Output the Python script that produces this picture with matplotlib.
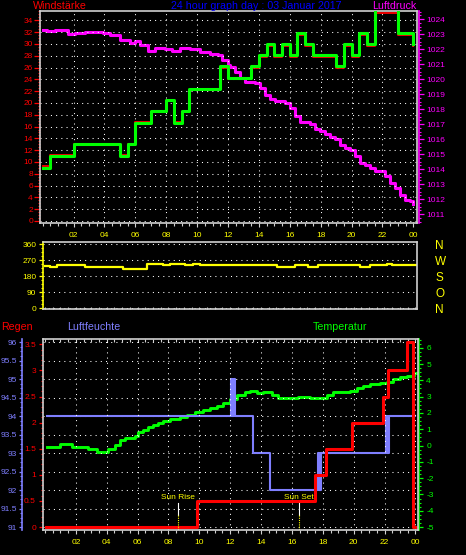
import numpy as np
import matplotlib.pyplot as plt
from matplotlib.ticker import MultipleLocator, FormatStrFormatter

plt.rcParams['font.family'] = ['Liberation Sans', 'DejaVu Sans']
plt.rcParams['axes.unicode_minus'] = False

BOX = '#d0d0d0'
HUM_COL = '#7f7fff'
DOTS = (0, (1, 4))

# x axis: hours of the day
hour_ticks = [2, 4, 6, 8, 10, 12, 14, 16, 18, 20, 22, 24]
hour_labels = ['02', '04', '06', '08', '10', '12', '14', '16', '18', '20', '22', '00']

# wind speed / gusts (km/h), step changes
wind_t = [0, 0.5, 2, 5, 5.5, 6, 7, 8, 8.5, 9, 9.5, 11.5, 12, 13.5, 14,
          14.5, 15, 15.5, 16, 16.5, 17, 17.5, 19, 19.5, 20, 20.5, 21, 21.5, 23, 24]
wind_speed = [9.3, 11.1, 13.0, 11.1, 13.0, 16.7, 18.5, 20.4, 16.7, 18.5, 22.2, 25.9, 24.1, 25.9, 27.8,
              29.6, 27.8, 29.6, 27.8, 31.5, 29.6, 27.8, 25.9, 29.6, 27.8, 31.5, 29.6, 35.2, 31.5, 29.6]
wind_gust = [9.0, 11.0, 13.0, 11.0, 13.0, 16.6, 18.6, 20.5, 16.6, 18.6, 22.4, 26.3, 24.3, 26.3, 28.1,
             30.0, 28.1, 30.0, 28.1, 31.8, 30.0, 28.1, 26.3, 30.0, 28.1, 31.8, 30.0, 36.5, 31.8, 30.0]

# air pressure (hPa)
press_t = [0.0, 0.26, 0.8, 1.25, 1.66, 2.09, 2.74, 3.39, 3.9, 4.36, 5.0, 5.65, 5.97, 6.3, 6.82,
           7.28, 7.92, 8.37, 8.89, 9.54, 10.18, 10.83, 11.35, 11.61, 12.0, 12.13, 12.46, 12.78, 13.1, 13.75,
           14.07, 14.39, 14.72, 15.04, 15.69, 16.02, 16.34, 16.66, 17.31, 17.63, 17.96, 18.28, 18.61, 18.93, 19.25,
           19.58, 19.9, 20.23, 20.55, 20.87, 21.2, 21.52, 21.85, 22.17, 22.49, 22.82, 23.14, 23.47, 23.79, 23.98]
press = [1023.25, 1023.2, 1023.25, 1023.3, 1023.0, 1023.05, 1023.15, 1023.15, 1023.05, 1022.95,
         1022.62, 1022.44, 1022.55, 1022.29, 1021.91, 1022.1, 1022.0, 1021.91, 1022.07, 1022.0,
         1021.82, 1021.69, 1021.62, 1021.29, 1020.95, 1020.84, 1020.51, 1020.1, 1019.84, 1019.77,
         1019.4, 1018.95, 1018.67, 1018.51, 1018.4, 1018.07, 1017.51, 1017.11, 1017.02, 1016.67,
         1016.57, 1016.35, 1016.13, 1016.0, 1015.62, 1015.4, 1015.24, 1014.84, 1014.4, 1014.29,
         1014.07, 1013.84, 1013.84, 1013.51, 1013.07, 1012.73, 1012.29, 1011.95, 1011.84, 1011.66]

# wind direction (deg)
dir_t = [0, 0.32, 0.78, 2.6, 5.05, 6.6, 7.65, 8.1, 9.07, 9.6,
         10.05, 15.04, 16.2, 17.04, 17.7, 20.4, 21.06, 22.16, 22.5, 24.1]
wind_dir = [239, 230, 243, 232, 222, 249, 243, 249, 243, 249,
            243, 232, 243, 232, 243, 232, 243, 249, 243, 243]
dir_ticks = [0, 90, 180, 270, 360]
dir_names = ['N', 'O', 'S', 'W', 'N']

# temperature (deg C)
temp_t = [0.11, 0.97, 1.73, 2.38, 2.8, 3.35, 4.1, 4.54, 4.86, 5.18, 5.83, 6.03, 6.35, 6.68, 7.0,
          7.32, 7.65, 8.1, 8.75, 9.18, 9.72, 10.24, 10.69, 11.13, 11.54, 11.99, 12.42, 12.96, 13.29, 13.72,
          14.13, 14.69, 15.12, 15.88, 16.42, 17.17, 17.82, 18.26, 18.68, 19.12, 19.77, 20.2, 20.63, 21.06, 21.71,
          22.15, 22.57, 23.01, 23.44, 23.9, 24.05]
temp = [-0.1, 0.09, -0.07, -0.11, -0.2, -0.4, -0.21, 0.03, 0.34, 0.44, 0.58, 0.85, 0.95, 1.12, 1.26,
        1.36, 1.52, 1.6, 1.77, 1.89, 2.07, 2.18, 2.28, 2.42, 2.63, 2.85, 3.07, 3.3, 3.36, 3.24,
        3.26, 3.1, 2.9, 2.9, 3.0, 2.9, 2.9, 3.1, 3.26, 3.3, 3.36, 3.51, 3.65, 3.77, 3.82,
        3.88, 4.06, 4.18, 4.28, 4.43, 4.43]

# humidity (%), quick flips show up as solid bars
hum_t = [0.1, 12.05, 12.1, 12.15, 12.2, 12.25, 12.3, 12.35, 13.45, 14.6, 17.7, 17.75, 17.8, 17.85, 17.9,
         22.1, 22.15, 22.2, 22.25, 22.3, 22.35, 24.0]
hum = [94, 95, 94, 95, 94, 95, 94, 94, 93, 92, 93, 92, 93, 92, 93,
       94, 93, 94, 93, 94, 94, 94]

# rain (mm), daily sum
rain_t = [0.05, 9.85, 17.5, 18.2, 19.9, 21.9, 22.2, 23.45, 23.85, 24.0]
rain = [0, 0.5, 1.0, 1.5, 2.0, 2.5, 3.0, 3.55, 0, 0]

sun_times = [8.63, 16.47]
sun_names = ['Sun Rise', 'Sun Set']

W, H = 466, 555
fig = plt.figure(figsize=(W / 100, H / 100), dpi=100, facecolor='black')


def box_axes(ax):
    for s in ax.spines.values():
        s.set_color(BOX)
        s.set_linewidth(1.2)


def only_spine(ax, side, color, out):
    for k, s in ax.spines.items():
        s.set_visible(k == side)
    ax.spines[side].set_color(color)
    ax.spines[side].set_linewidth(1.2)
    ax.spines[side].set_position(('outward', out))


# ---------------- top: wind + pressure ----------------
ax1 = fig.add_axes([40 / W, 1 - 222.7 / H, 377.3 / W, 212 / H])
ax1r = ax1.twinx()
ax1.set_zorder(ax1r.get_zorder() + 1)
ax1.patch.set_visible(False)
box_axes(ax1)
only_spine(ax1r, 'right', '#ff00ff', 1.2)

ax1r.step(press_t, press, where='post', color='#ff00ff', lw=2.2)
ax1.step(wind_t, wind_speed, where='post', color='#ff0000', lw=1.3, zorder=3)
ax1.step(wind_t, wind_gust, where='post', color='#00ff00', lw=2.2, zorder=4)

ax1.set_xlim(-0.175, 24.26)
ax1.set_ylim(-0.29, 35.63)
ax1r.set_ylim(1010.42, 1024.57)
ax1.set_xticks(hour_ticks, hour_labels)
ax1.xaxis.set_minor_locator(MultipleLocator(0.5))
ax1.set_yticks(np.arange(0, 35, 2))
ax1.yaxis.set_minor_locator(MultipleLocator(0.5))
ax1r.set_yticks(np.arange(1011, 1025, 1))
ax1r.yaxis.set_minor_locator(MultipleLocator(0.25))
ax1r.yaxis.set_major_formatter(FormatStrFormatter('%d'))

ax1.tick_params(axis='y', which='major', length=4.3, width=0.9, color='red', labelcolor='red', labelsize=6, pad=0.8)
ax1.tick_params(axis='y', which='minor', length=1.5, width=0.8, color='red')
ax1.tick_params(axis='x', which='major', length=2.9, width=0.8, color=BOX, labelcolor='yellow', labelsize=6, pad=4)
ax1.tick_params(axis='x', which='minor', length=1.8, width=0.8, color=BOX)
ax1r.tick_params(axis='y', which='major', length=3.6, width=0.9, color='#ff00ff', labelcolor='#ff00ff', labelsize=6, pad=1.4)
ax1r.tick_params(axis='y', which='minor', length=1.5, width=0.8, color='#ff00ff')
ax1.set_axisbelow(True)
ax1.grid(True, color='white', ls=DOTS, lw=0.75)

# ---------------- middle: wind direction ----------------
ax2 = fig.add_axes([43 / W, 1 - 308.7 / H, 374 / W, 67 / H], facecolor='black')
box_axes(ax2)
ax2.spines['left'].set_color('yellow')
ax2.step(dir_t, wind_dir, where='post', color='yellow', lw=1.6)
ax2.set_xlim(-0.13, 24.11)
ax2.set_ylim(-2, 375)
ax2.set_xticks(hour_ticks, [])
ax2.xaxis.set_minor_locator(MultipleLocator(0.5))
ax2.set_yticks(dir_ticks)
ax2.yaxis.set_minor_locator(MultipleLocator(22.5))
ax2.tick_params(axis='x', which='both', direction='in', length=1.8, width=0.8, color=BOX)
ax2.tick_params(axis='y', which='major', length=3.1, width=0.9, color='yellow', labelcolor='yellow', labelsize=6, pad=1.7)
ax2.tick_params(axis='y', which='minor', length=1.5, width=0.8, color='yellow')
ax2.set_axisbelow(True)
ax2.grid(True, axis='y', color='white', ls=DOTS, lw=0.75)

ax2r = ax2.twinx()
for s in ax2r.spines.values():
    s.set_visible(False)
ax2r.set_ylim(ax2.get_ylim())
ax2r.set_yticks(dir_ticks, dir_names)
ax2r.tick_params(axis='y', length=0, labelcolor='yellow', labelsize=8.5, pad=13)

# ---------------- bottom: rain, humidity, temperature ----------------
ax3 = fig.add_axes([43.3 / W, 1 - 530 / H, 374.4 / W, 190.7 / H])
ax3h = ax3.twinx()
ax3t = ax3.twinx()
ax3t.set_zorder(1)
ax3h.set_zorder(2)
ax3.set_zorder(3)
ax3.patch.set_visible(False)
box_axes(ax3)
only_spine(ax3t, 'right', '#00ff00', 1.0)
only_spine(ax3h, 'left', HUM_COL, 15.3)
ax3h.yaxis.tick_left()
ax3h.yaxis.set_label_position('left')

ax3t.step(temp_t, temp, where='post', color='#00ff00', lw=2.1)
ax3h.step(hum_t, hum, where='post', color=HUM_COL, lw=1.5)
ax3.step(rain_t, rain, where='post', color='#ff0000', lw=2.2)

ax3.set_xlim(-0.11, 24.15)
ax3.set_ylim(-0.057, 3.596)
ax3h.set_ylim(90.92, 96.08)
ax3t.set_ylim(-5.18, 6.515)

ax3.set_xticks(hour_ticks, hour_labels)
ax3.xaxis.set_minor_locator(MultipleLocator(0.5))
ax3.set_yticks(np.arange(0, 3.6, 0.5))
ax3.yaxis.set_minor_locator(MultipleLocator(0.1))
ax3.yaxis.set_major_formatter(FormatStrFormatter('%g'))
ax3h.set_yticks(np.arange(91, 96.1, 0.5))
ax3h.yaxis.set_minor_locator(MultipleLocator(0.125))
ax3h.yaxis.set_major_formatter(FormatStrFormatter('%g'))
ax3t.set_yticks(np.arange(-5, 7, 1))
ax3t.yaxis.set_minor_locator(MultipleLocator(0.25))

ax3.tick_params(axis='x', which='major', length=2.9, width=0.8, color=BOX, labelcolor='yellow', labelsize=6, pad=3.6)
ax3.tick_params(axis='x', which='minor', length=1.8, width=0.8, color=BOX)
ax3.tick_params(axis='y', which='major', length=3.1, width=0.9, color='red', labelcolor='red', labelsize=6, pad=2.2)
ax3.tick_params(axis='y', which='minor', length=1.5, width=0.8, color='red')
ax3h.tick_params(axis='y', which='major', length=2.2, width=0.9, color=HUM_COL, labelcolor=HUM_COL, labelsize=6, pad=1.7)
ax3h.tick_params(axis='y', which='minor', length=1.2, width=0.8, color=HUM_COL)
ax3t.tick_params(axis='y', which='major', length=3.1, width=0.9, color='#00ff00', labelcolor='#00ff00', labelsize=6, pad=2)
ax3t.tick_params(axis='y', which='minor', length=1.5, width=0.8, color='#00ff00')

# small inward ticks along the top edge of the lower panel
top3 = ax3.secondary_xaxis('top')
top3.set_xticks(hour_ticks, [])
top3.xaxis.set_minor_locator(MultipleLocator(0.5))
top3.tick_params(axis='x', which='both', direction='in', length=1.8, width=0.8, color=BOX)
top3.spines['top'].set_visible(False)

ax3h.set_axisbelow(True)
ax3h.grid(True, axis='y', color='white', ls=DOTS, lw=0.75)
ax3.set_axisbelow(True)
ax3.grid(True, axis='x', color='white', ls=DOTS, lw=0.75)

# sun rise / sun set markers
tr = ax3.get_xaxis_transform()
for st, name in zip(sun_times, sun_names):
    ax3.plot([st, st], [0.142, 0.079], color='white', lw=0.8, transform=tr)
    ax3.plot([st, st], [0.079, 0.0], color='yellow', lw=0.8, ls=(0, (1, 1)), transform=tr)
    ax3.text(st, 0.172, name, color='yellow', fontsize=6, ha='center', va='center', transform=tr)

# ---------------- titles ----------------
ty = 1 - 6 / H
fig.text(33 / W, ty, 'Windstärke', color='#ff0000', fontsize=7.7, ha='left', va='center')
fig.text(256 / W, ty, '24 hour graph day : 03 Januar 2017', color='#0000ff', fontsize=7.7, ha='center', va='center')
fig.text(416 / W, ty, 'Luftdruck', color='#ff00ff', fontsize=7.7, ha='right', va='center')

by = 1 - 327 / H
fig.text(1 / W, by, 'Regen', color='#ff0000', fontsize=7.7, ha='left', va='center')
fig.text(67 / W, by, 'Luftfeuchte', color=HUM_COL, fontsize=7.7, ha='left', va='center')
fig.text(313 / W, by, 'Temperatur', color='#00ff00', fontsize=7.7, ha='left', va='center')

fig.savefig('out.png', dpi=100, facecolor='black')
